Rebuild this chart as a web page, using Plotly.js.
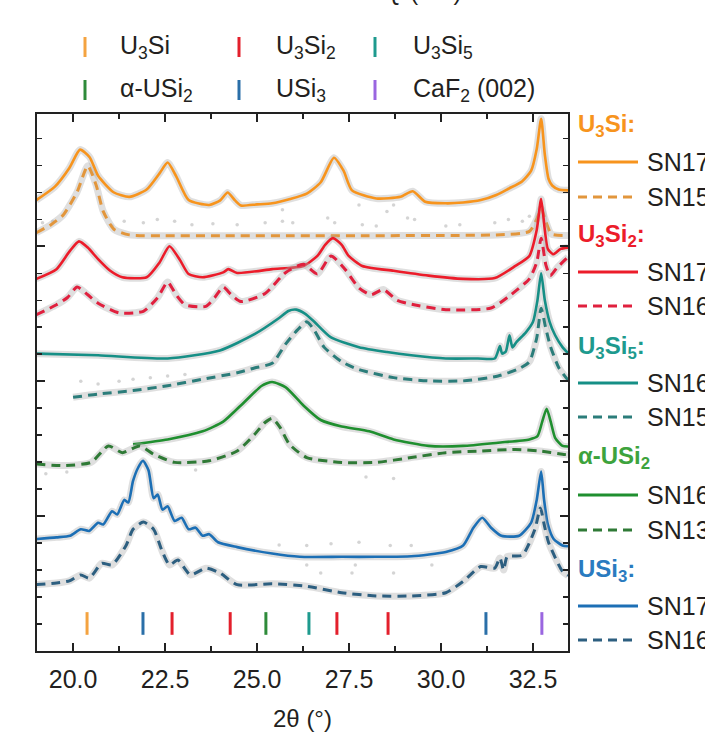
<!DOCTYPE html>
<html><head><meta charset="utf-8">
<script src="https://cdn.plot.ly/plotly-3.0.1.min.js"></script>
<style>html,body{margin:0;padding:0;background:#fff}</style>
</head><body><div id="chart" style="width:705px;height:736px"></div>
<script>
// ---------- data (2θ in degrees, intensity in offset arbitrary units) ----------
const u3si_sn17_x = [19.0,19.5,19.9,20.19,20.45,20.68,21.1,21.53,22.0,22.35,22.57,22.8,23.14,23.7,24.0,24.2,24.4,24.56,25.0,25.41,25.9,26.35,26.73,27.09,27.35,27.58,28.24,28.9,29.23,29.57,30.13,30.6,31.08,31.5,31.83,32.2,32.45,32.6,32.72,32.82,32.92,33.02,33.2,33.45];
const u3si_sn17_y = [16.71,17.2,17.9,18.58,18.3,17.61,17.0,16.83,17.1,17.7,18.1,17.6,16.71,16.53,16.7,16.99,16.7,16.51,16.55,16.59,16.75,16.95,17.37,18.28,17.8,17.07,16.77,16.83,17.04,16.65,16.59,16.62,16.71,16.9,17.13,17.4,17.8,18.6,19.72,18.4,17.5,17.25,17.1,17.07];
const u3si_sn15_x = [19.0,19.4,19.74,20.11,20.4,20.63,20.82,21.11,21.53,22.5,24.0,26.0,28.0,30.0,31.5,32.4,32.6,32.72,32.84,33.0,33.45];
const u3si_sn15_y = [15.5,15.8,16.17,17.01,17.98,17.25,16.29,15.63,15.42,15.39,15.39,15.39,15.39,15.4,15.42,15.55,16.0,16.4,15.95,15.45,15.4];

const u3si2_sn17_x = [19.0,19.55,19.9,20.16,20.4,20.68,21.0,21.34,22.0,22.35,22.62,22.9,23.14,23.52,24.08,24.22,24.46,25.41,26.26,26.64,26.85,27.06,27.3,27.49,27.86,28.71,29.66,30.6,31.46,32.02,32.4,32.6,32.72,32.82,32.9,33.05,33.25,33.45];
const u3si2_sn17_y = [13.79,14.15,14.8,15.18,14.95,14.52,14.1,13.85,13.85,14.4,15.0,14.5,13.97,13.85,14.03,14.15,14.01,14.15,14.27,14.64,15.05,15.3,15.05,14.64,14.27,14.09,13.91,13.79,13.82,14.27,14.64,15.6,16.75,15.6,14.9,14.7,14.9,14.95];
const u3si2_sn16_x = [19.0,19.55,19.85,20.11,20.4,20.68,21.25,21.91,22.3,22.57,22.8,23.04,23.61,23.85,24.08,24.3,24.56,25.22,25.78,26.26,26.64,27.01,27.39,27.77,28.1,28.43,28.8,29.2,30.13,31.36,31.83,32.4,32.6,32.72,32.85,32.97,33.15,33.45];
const u3si2_sn16_y = [12.46,12.83,13.1,13.49,13.2,12.89,12.53,12.59,13.1,13.67,13.2,12.83,12.77,13.1,13.49,13.2,12.95,13.25,14.03,14.33,13.97,14.64,14.15,13.45,13.2,13.4,13.0,12.85,12.65,12.71,13.13,13.79,14.4,15.3,14.3,13.91,14.2,14.6];

const u3si5_sn16_x = [19.0,20.68,22.57,23.99,24.93,25.6,25.85,26.07,26.3,26.54,27.01,27.77,28.53,29.19,30.13,31.0,31.46,31.6,31.66,31.76,31.86,31.94,32.05,32.3,32.5,32.62,32.72,32.82,32.95,33.1,33.3,33.45];
const u3si5_sn16_y = [11.02,10.96,10.84,11.14,11.74,12.34,12.6,12.65,12.5,12.22,11.62,11.26,11.08,10.96,10.84,10.84,10.84,11.3,11.02,11.1,11.7,11.25,11.45,11.8,12.2,13.0,14.0,13.0,12.2,11.7,11.26,11.04];
const u3si5_sn15_x = [20.0,20.68,21.63,22.57,23.52,24.46,24.93,25.41,25.78,26.1,26.35,26.55,26.82,27.3,27.77,28.71,29.66,30.6,31.55,32.1,32.4,32.6,32.72,32.84,32.97,33.2,33.45];
const u3si5_sn15_y = [9.4,9.52,9.65,9.83,10.07,10.31,10.49,10.66,11.38,11.9,12.2,11.9,11.26,10.72,10.43,10.13,10.01,10.01,10.19,10.45,10.72,11.6,12.7,12.0,11.3,10.5,10.04];

const ausi2_sn16_x = [21.63,22.57,23.52,24.08,24.65,25.13,25.41,25.78,26.26,26.73,27.3,28.05,28.71,29.66,30.6,31.55,32.4,32.62,32.75,32.87,32.98,33.1,33.3,33.45];
const ausi2_sn16_y = [7.66,7.84,8.14,8.5,9.22,9.83,9.97,9.77,9.1,8.56,8.32,8.14,7.84,7.6,7.6,7.72,7.84,7.96,8.5,8.98,8.5,7.9,7.6,7.58];
const ausi2_sn13_x = [19.0,19.74,20.49,20.96,21.34,21.81,22.19,22.76,23.7,24.46,24.93,25.2,25.41,25.62,25.88,26.35,27.3,28.24,29.19,30.13,31.08,32.02,32.68,33.3,33.45];
const ausi2_sn13_y = [6.93,6.87,6.99,7.6,7.35,7.6,7.29,6.99,7.05,7.41,8.02,8.45,8.62,8.3,7.66,7.17,6.99,6.99,7.17,7.35,7.41,7.47,7.41,7.29,7.27];

const usi3_sn17_x = [19.0,19.55,19.92,20.21,20.44,20.68,20.82,21.06,21.2,21.39,21.5,21.63,21.77,21.9,22.05,22.19,22.3,22.43,22.57,22.76,22.95,23.14,23.33,23.52,23.7,23.94,24.46,25.41,26.16,27.3,28.24,29.19,30.13,30.6,30.88,31.12,31.36,31.64,32.12,32.45,32.6,32.72,32.8,32.9,33.06,33.3,33.45];
const usi3_sn17_y = [4.15,4.21,4.27,4.51,4.45,4.75,4.69,5.18,5.06,5.6,5.5,6.3,6.8,7.05,6.7,5.66,5.8,5.24,5.36,4.82,4.94,4.51,4.57,4.27,4.33,4.03,3.85,3.61,3.49,3.49,3.49,3.51,3.67,3.91,4.57,4.94,4.57,4.27,4.27,4.76,5.6,6.65,5.6,4.7,4.15,3.91,3.88];
const usi3_sn16_x = [19.0,19.55,19.9,20.21,20.44,20.78,21.06,21.44,21.63,21.91,22.19,22.43,22.62,22.85,23.19,23.61,23.99,24.46,25.41,26.35,27.3,28.24,29.19,30.13,30.6,31.08,31.46,31.6,31.7,31.8,32.21,32.55,32.7,32.8,32.92,33.3,33.45];
const usi3_sn16_y = [2.46,2.52,2.6,2.82,2.7,3.25,3.19,3.91,4.51,4.78,4.51,3.67,3.19,3.37,2.82,3.07,2.89,2.46,2.49,2.4,2.16,2.04,2.04,2.16,2.58,3.13,3.07,3.45,3.0,3.5,3.55,4.51,5.3,4.7,4.03,2.95,2.8];

// scattered raw points (grey)
const raw_x = [19.17,19.45,21.06,21.39,21.91,22.29,22.76,23.23,23.8,24.46,25.22,25.69,25.97,26.92,27.11,27.86,28.24,29.09,29.28,30.13,30.51,31.46,31.83,32.21,32.4,25.69,27.77,28.53,28.71,
  25.6,26.35,27.01,27.77,28.62,29.19,26.35,27.67,28.71,29.75,26.73,27.58,
  20.21,20.68,21.25,21.63,22.1,22.57,23.04,
  19.26,19.83,23.33,27.96,28.71];
const raw_y = [15.87,15.93,15.75,15.93,15.87,15.99,15.93,15.8,15.83,15.8,15.87,15.93,15.87,16.05,15.87,15.8,15.75,16.05,15.99,15.75,15.8,15.87,15.99,15.93,16.11,16.35,16.53,16.29,16.53,
  3.93,3.91,3.97,4.03,3.91,3.91,3.19,3.19,2.89,3.19,2.89,2.89,
  10.0,9.89,10.0,10.07,10.13,10.19,10.25,
  6.57,6.63,6.71,6.45,6.39];

// reference peak positions
const pos_U3Si   = [20.38];
const pos_U3Si2  = [22.69, 24.27, 27.17, 28.56];
const pos_U3Si5  = [26.41];
const pos_aUSi2  = [25.24];
const pos_USi3   = [21.9, 31.22];
const pos_CaF2   = [32.74];
const markLow = 0.6, markHigh = 1.44;

// ---------- styling ----------
const C = {
  orange:'#F7941D', orangeD:'#E2963C',
  red:'#EC1C2A', redD:'#E0203E',
  teal:'#168F86', tealD:'#2B7D7A',
  green:'#1F8F2F', greenD:'#2F7A36',
  blue:'#1C6FB5', blueD:'#2D5F80',
  purple:'#9A66E0'
};
const FONT = 'Arial, "Liberation Sans", sans-serif';
const TXT = '#231f20';

const traces = [];
function curve(x, y, color, dashed){
  traces.push({x:x, y:y, type:'scatter', mode:'lines', hoverinfo:'skip', showlegend:false,
    line:{color:'rgba(170,170,170,0.38)', width:7, shape:'spline', smoothing:0.6}});
  traces.push({x:x, y:y, type:'scatter', mode:'lines', hoverinfo:'skip', showlegend:false,
    line:{color:color, width:dashed?3:2.6, dash:dashed?'9px,6px':'solid', shape:'spline', smoothing:0.6}});
}
traces.push({x:raw_x, y:raw_y, type:'scatter', mode:'markers', hoverinfo:'skip', showlegend:false,
  marker:{color:'rgba(170,170,170,0.5)', size:3.5}});
curve(u3si_sn17_x, u3si_sn17_y, C.orange, false);
curve(u3si_sn15_x, u3si_sn15_y, C.orangeD, true);
curve(u3si2_sn17_x, u3si2_sn17_y, C.red, false);
curve(u3si2_sn16_x, u3si2_sn16_y, C.redD, true);
curve(u3si5_sn16_x, u3si5_sn16_y, C.teal, false);
curve(u3si5_sn15_x, u3si5_sn15_y, C.tealD, true);
curve(ausi2_sn16_x, ausi2_sn16_y, C.green, false);
curve(ausi2_sn13_x, ausi2_sn13_y, C.greenD, true);
curve(usi3_sn17_x, usi3_sn17_y, C.blue, false);
curve(usi3_sn16_x, usi3_sn16_y, C.blueD, true);

function marks(pos, color){
  const x=[], y=[];
  pos.forEach(p=>{x.push(p,p,null); y.push(markLow,markHigh,null);});
  traces.push({x:x, y:y, type:'scatter', mode:'lines', hoverinfo:'skip', showlegend:false,
    line:{color:color, width:3}});
}
marks(pos_U3Si, '#F4A340');
marks(pos_U3Si2, '#E3202C');
marks(pos_U3Si5, '#1E9A8E');
marks(pos_aUSi2, '#2E8B3A');
marks(pos_USi3, '#2A6FA8');
marks(pos_CaF2, C.purple);

// ---------- layout helpers (pixel -> paper) ----------
const L=37, R=568, T=114, B=651;
const px = v => (v-L)/(R-L);
const py = v => (B-v)/(B-T);

const shapes = [], annotations = [];
function vmark(xp, y0, y1, color){
  shapes.push({type:'line', xref:'paper', yref:'paper', x0:px(xp), x1:px(xp), y0:py(y0), y1:py(y1),
    line:{color:color, width:3}});
}
function text(xp, yp, t, color, size, anchor, bold){
  annotations.push({xref:'paper', yref:'paper', x:px(xp), y:py(yp), text: bold?('<b>'+t+'</b>'):t,
    showarrow:false, xanchor:anchor||'left', yanchor:'middle',
    font:{family:FONT, size:size, color:color}});
}
// top legend
vmark(85, 37, 57, '#F4A340'); text(118, 47, 'U<sub>3</sub>Si', TXT, 25);
vmark(239, 37, 57, '#E3202C'); text(274, 47, 'U<sub>3</sub>Si<sub>2</sub>', TXT, 25);
vmark(375, 37, 57, '#1E9A8E'); text(411, 47, 'U<sub>3</sub>Si<sub>5</sub>', TXT, 25);
vmark(85, 80, 100, '#2E8B3A'); text(118, 90, 'α-USi<sub>2</sub>', TXT, 25);
vmark(239, 80, 100, '#2A6FA8'); text(274, 90, 'USi<sub>3</sub>', TXT, 25);
vmark(375, 80, 100, C.purple); text(411, 90, 'CaF<sub>2</sub> (002)', TXT, 25);

// right-hand labels
function sample(yp, color, dashed, label){
  shapes.push({type:'line', xref:'paper', yref:'paper', x0:px(578), x1:px(638), y0:py(yp), y1:py(yp),
    line:{color:color, width:3, dash:dashed?'9px,6px':'solid'}});
  text(645, yp, label, TXT, 25);
}
text(576, 125, 'U<sub>3</sub>Si:', C.orange, 24, 'left', true);
sample(162, C.orange, false, 'SN17');
sample(197, C.orangeD, true, 'SN15');
text(576, 235, 'U<sub>3</sub>Si<sub>2</sub>:', C.red, 24, 'left', true);
sample(272, C.red, false, 'SN17');
sample(306, C.redD, true, 'SN16');
text(576, 347, 'U<sub>3</sub>Si<sub>5</sub>:', '#1E9A8E', 24, 'left', true);
sample(383, C.teal, false, 'SN16');
sample(417, C.tealD, true, 'SN15');
text(576, 457, 'α-USi<sub>2</sub>', '#3DA33D', 24, 'left', true);
sample(495, C.green, false, 'SN16');
sample(530, C.greenD, true, 'SN13');
text(576, 570, 'USi<sub>3</sub>:', '#2A7BC0', 24, 'left', true);
sample(606, C.blue, false, 'SN17');
sample(640, C.blueD, true, 'SN16');

// partially visible top-axis title
annotations.push({xref:'paper', yref:'paper', x:px(423), y:py(7), text:'<i>Q</i> (Å<sup>−1</sup>)',
  showarrow:false, xanchor:'center', yanchor:'bottom', font:{family:FONT, size:24, color:TXT}});

const layout = {
  width:705, height:736,
  margin:{l:L, r:705-R, t:T, b:736-B, pad:0},
  paper_bgcolor:'#fff', plot_bgcolor:'#fff',
  showlegend:false,
  font:{family:FONT, color:TXT},
  xaxis:{range:[19.02,33.45], tickmode:'array', tickvals:[20,22.5,25,27.5,30,32.5],
    ticktext:['20.0','22.5','25.0','27.5','30.0','32.5'],
    ticks:'inside', ticklen:8, tickwidth:1.6, tickcolor:'#222', ticklabelstandoff:5,
    minor:{tickvals:[21.25,23.75,26.25,28.75,31.25], ticks:'inside', ticklen:5, tickwidth:1.4, tickcolor:'#222'},
    showline:true, linewidth:2, linecolor:'#222', mirror:'allticks',
    showgrid:false, zeroline:false,
    tickfont:{family:FONT, size:25, color:TXT},
    title:{text:'2θ (°)', font:{family:FONT, size:24, color:TXT}, standoff:18}},
  yaxis:{range:[0,19.9], tick0:0, dtick:5, ticks:'inside', ticklen:8, tickwidth:1.6, tickcolor:'#222',
    minor:{dtick:1, ticks:'inside', ticklen:5, tickwidth:1.4, tickcolor:'#222'},
    showticklabels:false, showline:true, linewidth:2, linecolor:'#222', mirror:'allticks',
    showgrid:false, zeroline:false},
  shapes:shapes, annotations:annotations
};
Plotly.newPlot('chart', traces, layout, {displayModeBar:false, staticPlot:true});
</script></body></html>
